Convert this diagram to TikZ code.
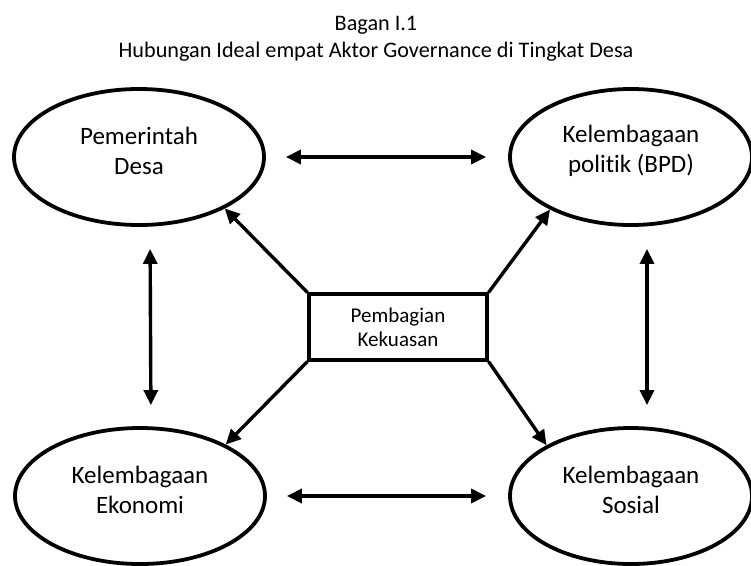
\documentclass[tikz,border=0pt]{standalone}
\usepackage{fontspec}
\setmainfont{Carlito}[Ligatures={NoCommon}]
\usetikzlibrary{shapes.geometric,arrows.meta}
\begin{document}
\begin{tikzpicture}[x=1pt,y=-1pt,
  actor/.style={draw,ellipse,line width=3.8pt,minimum width=250pt,minimum height=136pt,inner sep=0pt},
  etext/.style={align=center,font=\fontsize{25}{30}\selectfont},
  hub/.style={draw,rectangle,line width=3.2pt,minimum width=178pt,minimum height=66pt,inner sep=0pt,align=center,font=\fontsize{21}{24}\selectfont},
  ttl/.style={font=\fontsize{22.2}{27}\selectfont,anchor=base},
  arr/.style={line width=3.4pt,-{Triangle[length=15pt,width=14pt]}},
  dbl/.style={line width=3.4pt,{Triangle[length=15pt,width=14pt]}-{Triangle[length=15pt,width=14pt]}}]
\useasboundingbox (0,0) rectangle (751,565);
\node[ttl] (t1) at (376,30) {Bagan I.1};
\node[ttl] (t2) at (376,57) {Hubungan Ideal empat Aktor Governance di Tingkat Desa};
\node[actor] (pd) at (139,157) {};
\node[actor,minimum width=242pt] (bpd) at (631,157) {};
\node[actor] (el) at (140,496) {};
\node[actor,minimum width=242pt] (ss) at (631,496) {};
\node[etext] (pdT) at ([yshift=6pt]pd.center) {Pemerintah\\Desa};
\node[etext] (bpdT) at ([yshift=6pt]bpd.center) {Kelembagaan\\politik (BPD)};
\node[etext] (elT) at ([yshift=6pt]el.center) {Kelembagaan\\Ekonomi};
\node[etext] (ssT) at ([yshift=6pt]ss.center) {Kelembagaan\\Sosial};
\node[hub] (pk) at (398,327) {Pembagian\\Kekuasan};
% horizontal
\draw[dbl,shorten <=20pt,shorten >=22pt] (pd.east) -- (bpd.west);
\draw[dbl,shorten <=20pt,shorten >=22pt] (el.east) -- (ss.west);
% vertical
\draw[dbl,shorten <=22pt,shorten >=21pt] ([xshift=11pt]pd.south) -- ([xshift=11pt]el.north);
\draw[dbl,shorten <=22pt,shorten >=21pt] ([xshift=16pt]bpd.south) -- ([xshift=16pt]ss.north);
% diagonal
\draw[arr] (pk.north west) -- (pd.-31);
\draw[arr] (pk.north east) -- (bpd.-147);
\draw[arr] (pk.south west) -- (el.31);
\draw[arr] (pk.south east) -- (ss.149);
\end{tikzpicture}
\end{document}
